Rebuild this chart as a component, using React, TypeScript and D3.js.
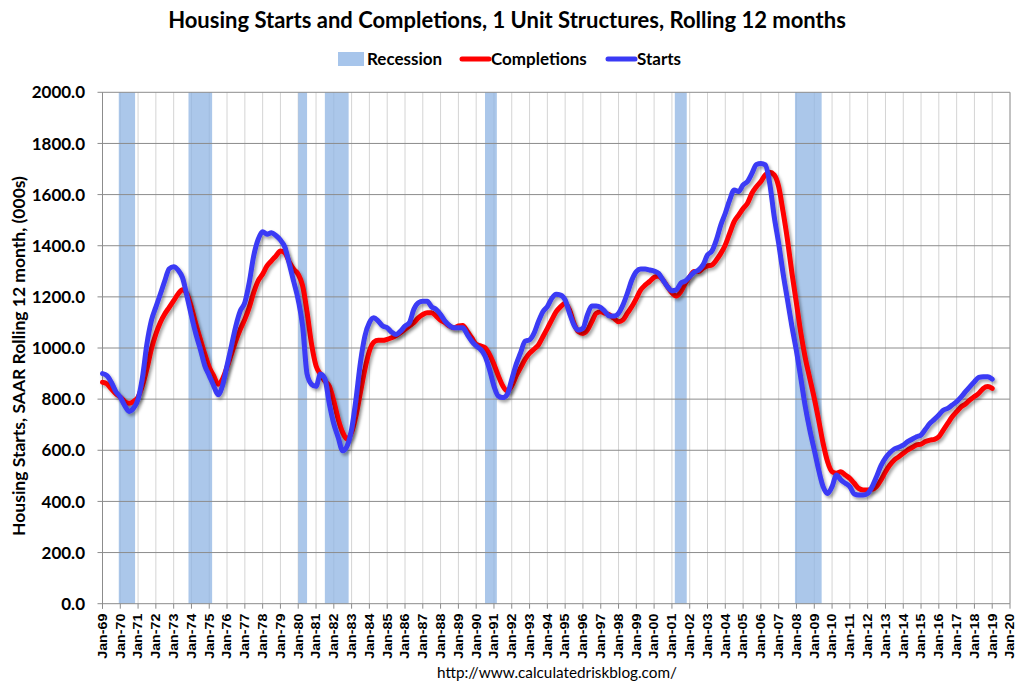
import React from 'react';
import * as d3 from 'd3';

// quarterly values, first quarter = Jan-1969
const firstMonth = '1969-01';
const starts: number[] = [
  900, 892, 866, 830, 808, 775, 752, 765, 800, 885, 1015, 1107,
  1160, 1210, 1262, 1310, 1318, 1305, 1275, 1203, 1125, 1055, 996, 931,
  892, 853, 817, 853, 931, 1009, 1087, 1146, 1178, 1256, 1360, 1425,
  1455, 1445, 1451, 1440, 1422, 1395, 1330, 1260, 1188, 1085, 898, 858,
  850, 898, 880, 782, 703, 650, 598, 617, 682, 800, 943, 1047,
  1099, 1118, 1105, 1086, 1079, 1062, 1053, 1066, 1086, 1099, 1151, 1177,
  1183, 1183, 1161, 1151, 1131, 1105, 1088, 1079, 1079, 1079, 1053, 1027,
  1008, 995, 969, 917, 851, 812, 806, 819, 877, 936, 982, 1027,
  1032, 1057, 1103, 1142, 1162, 1194, 1210, 1207, 1188, 1136, 1090, 1070,
  1077, 1129, 1164, 1164, 1158, 1142, 1125, 1125, 1136, 1168, 1214, 1266,
  1299, 1309, 1309, 1305, 1301, 1292, 1266, 1240, 1224, 1227, 1253, 1262,
  1279, 1296, 1305, 1325, 1364, 1379, 1422, 1481, 1527, 1579, 1618, 1612,
  1638, 1651, 1683, 1718, 1722, 1716, 1644, 1514, 1409, 1292, 1188, 1083,
  988, 880, 770, 679, 601, 523, 458, 431, 458, 503, 484, 471,
  458, 429, 425, 425, 431, 458, 497, 540, 570, 590, 605, 612,
  620, 634, 643, 653, 660, 682, 705, 721, 738, 757, 764, 777,
  790, 808, 829, 849, 868, 885, 888, 888, 878,
];
const completions: number[] = [
  866, 860, 840, 821, 808, 791, 784, 791, 808, 853, 918, 996,
  1055, 1100, 1133, 1159, 1185, 1211, 1228, 1211, 1159, 1094, 1035, 977,
  925, 892, 858, 879, 925, 977, 1029, 1074, 1113, 1159, 1217, 1263,
  1289, 1321, 1341, 1360, 1379, 1372, 1337, 1308, 1288, 1243, 1140, 1015,
  930, 897, 871, 850, 792, 722, 670, 644, 670, 735, 826, 917,
  988, 1023, 1030, 1030, 1034, 1040, 1049, 1060, 1073, 1086, 1099, 1118,
  1131, 1138, 1138, 1125, 1109, 1099, 1086, 1079, 1086, 1088, 1066, 1040,
  1014, 1008, 1001, 975, 936, 891, 852, 832, 852, 891, 923, 956,
  980, 995, 1012, 1044, 1077, 1110, 1142, 1162, 1175, 1149, 1096, 1064,
  1057, 1070, 1103, 1136, 1142, 1136, 1129, 1116, 1103, 1110, 1136, 1162,
  1194, 1227, 1246, 1260, 1276, 1282, 1266, 1240, 1216, 1203, 1220, 1253,
  1279, 1299, 1299, 1312, 1321, 1325, 1344, 1370, 1403, 1449, 1494, 1520,
  1546, 1566, 1605, 1631, 1651, 1677, 1687, 1677, 1631, 1533, 1422, 1292,
  1175, 1057, 960, 881, 803, 718, 627, 555, 516, 510, 516, 503,
  490, 471, 451, 445, 445, 447, 458, 484, 516, 542, 562, 575,
  588, 601, 611, 621, 624, 634, 640, 643, 653, 679, 705, 731,
  751, 770, 781, 797, 810, 823, 842, 849, 842,
];
const recessionStarts = ['1969-12', '1973-11', '1980-01', '1981-07', '1990-07', '2001-03', '2007-12'];
const recessionEnds = ['1970-11', '1975-03', '1980-07', '1982-11', '1991-03', '2001-11', '2009-06'];
const yTicks = [0, 200, 400, 600, 800, 1000, 1200, 1400, 1600, 1800, 2000];

const title = 'Housing Starts and Completions, 1 Unit Structures, Rolling 12 months';
const yTitle = 'Housing Starts, SAAR Rolling 12 month, (000s)';
const source = 'http://www.calculatedriskblog.com/';

const W = 1023;
const H = 690;
const margin = { top: 92.3, right: 13, bottom: 86.3, left: 102.5 };
const font = 'Lato, "Open Sans", sans-serif';

const parseMonth = d3.timeParse('%Y-%m');

const App: React.FC = () => {
  const t0 = parseMonth(firstMonth) as Date;
  const dateAt = (i: number) => d3.timeMonth.offset(t0, i * 3);

  const x = d3.scaleTime()
    .domain([new Date(1969, 0, 1), new Date(2020, 0, 1)])
    .range([margin.left, W - margin.right]);
  const y = d3.scaleLinear()
    .domain([0, 2000])
    .range([H - margin.bottom, margin.top]);

  const line = d3.line<number>()
    .x((_, i) => x(dateAt(i)))
    .y(d => y(d))
    .curve(d3.curveMonotoneX);

  const years = d3.timeYear.range(new Date(1969, 0, 1), new Date(2020, 0, 2));
  const fmtX = d3.timeFormat('%b-%y');
  const fmtY = d3.format('.1f');
  const y0 = y(0);
  const yTop = y(2000);

  return (
    <svg width={W} height={H} style={{ position: 'absolute', left: 0, top: 0, background: '#fff' }}
      fontFamily={font}>
      <defs>
        <filter id="shadow" x="-5%" y="-5%" width="110%" height="110%">
          <feDropShadow dx="2" dy="2.5" stdDeviation="1.5" floodColor="#000" floodOpacity="0.35" />
        </filter>
      </defs>

      {/* title */}
      <text x={507} y={28} textAnchor="middle" fontSize={22} fontWeight="bold" fill="#000">{title}</text>

      {/* legend */}
      <rect x={338} y={52} width={26} height={14} fill="#a7c5eb" />
      <text x={367} y={65} fontSize={17} fontWeight="bold">Recession</text>
      <line x1={462} x2={489} y1={59} y2={59} stroke="#ff0000" strokeWidth={5} strokeLinecap="round" />
      <text x={491} y={65} fontSize={17} fontWeight="bold">Completions</text>
      <line x1={608} x2={635} y1={59} y2={59} stroke="#3a3af5" strokeWidth={5} strokeLinecap="round" />
      <text x={637} y={65} fontSize={17} fontWeight="bold">Starts</text>

      {/* vertical gridlines */}
      {years.map(d => (
        <line key={+d} x1={x(d)} x2={x(d)} y1={yTop} y2={y0} stroke="#d4d4d4" strokeWidth={1} />
      ))}

      {/* recession bars */}
      {recessionStarts.map((s, i) => {
        const a = x(parseMonth(s) as Date);
        const b = x(parseMonth(recessionEnds[i]) as Date);
        return <rect key={s} x={a} y={yTop} width={b - a} height={y0 - yTop} fill="#8fb4e3" opacity={0.75} />;
      })}

      {/* horizontal gridlines + y labels */}
      {yTicks.map(v => (
        <g key={v}>
          <line x1={margin.left - 5} x2={W - margin.right} y1={y(v)} y2={y(v)} stroke="#8c8c8c" strokeWidth={1} />
          <text x={85} y={y(v)} dy="0.36em" textAnchor="end" fontSize={17} fontWeight="bold">{fmtY(v)}</text>
        </g>
      ))}

      {/* axes lines */}
      <line x1={margin.left} x2={margin.left} y1={yTop} y2={y0 + 5} stroke="#8c8c8c" />
      <line x1={W - margin.right} x2={W - margin.right} y1={yTop} y2={y0} stroke="#9a9a9a" />
      {years.map(d => (
        <g key={'t' + +d}>
          <line x1={x(d)} x2={x(d)} y1={y0} y2={y0 + 5} stroke="#8c8c8c" />
          <text transform={`translate(${x(d)},${y0 + 10}) rotate(-90)`} dy="0.36em" textAnchor="end"
            fontFamily='"Liberation Sans", Arial, sans-serif' fontSize={12} fontWeight="bold"
            textLength={45} lengthAdjust="spacingAndGlyphs">{fmtX(d)}</text>
        </g>
      ))}

      {/* series */}
      <path d={line(completions) ?? ''} fill="none" stroke="#ff0000" strokeWidth={5}
        strokeLinejoin="round" strokeLinecap="round" filter="url(#shadow)" />
      <path d={line(starts) ?? ''} fill="none" stroke="#3a3af5" strokeWidth={5}
        strokeLinejoin="round" strokeLinecap="round" filter="url(#shadow)" />

      {/* y title */}
      <text transform={`translate(25,${(yTop + y0) / 2 + 8}) rotate(-90)`} textAnchor="middle" fontSize={17.5}
        fontWeight="bold">{yTitle}</text>

      {/* source */}
      <text x={557} y={678} textAnchor="middle" fontSize={15.3}>{source}</text>
    </svg>
  );
};

export default App;
